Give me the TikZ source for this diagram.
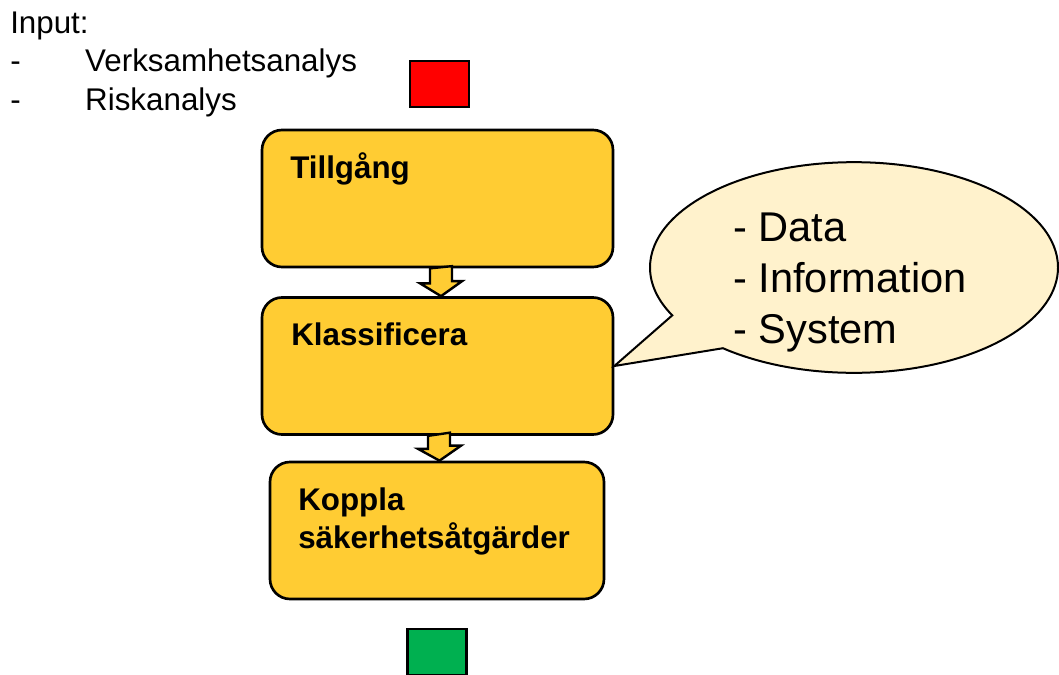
\documentclass[tikz,border=0pt]{standalone}
\usepackage{fontspec}
\setmainfont{Liberation Sans}
\usetikzlibrary{shapes.callouts,calc}
\definecolor{boxfill}{HTML}{FFCC33}
\definecolor{bubblefill}{HTML}{FFF2CC}
\definecolor{stopred}{HTML}{FF0000}
\definecolor{gogreen}{HTML}{00B050}

\begin{document}
\begin{tikzpicture}[x=0.75pt,y=-0.75pt,
	stepbox/.style={draw=black,line width=2pt,fill=boxfill,rounded corners=15pt,minimum height=102.75pt,inner sep=0pt},
	steptext/.style={anchor=base west,inner sep=0pt,align=left,font=\fontsize{23.5}{28.5}\selectfont\bfseries},
	flowarrow/.style={draw=black,line width=1.8pt,fill=boxfill,line join=miter},
	marker/.style={draw=black,line width=2pt,minimum width=44.25pt,minimum height=34.5pt,inner sep=0pt}]
	\useasboundingbox (0,0) rectangle (1059,674);
	% input list (base = last line)
	\node [anchor=base west,inner sep=0pt,align=left,font=\fontsize{23.5}{28.8}\selectfont] (input) at (10,110)
		{Input:\\\makebox[56.25pt][l]{-}Verksamhetsanalys\\\makebox[56.25pt][l]{-}Riskanalys};
	\node [marker,fill=stopred] (start) at (439.5,84) {};
	\node [marker,fill=gogreen] (stop) at (437,652) {};
	% steps
	\node [stepbox,minimum width=263.25pt] (asset) at (437.5,198.5) {};
	\node [stepbox,minimum width=263.25pt] (classify) at (437.5,366) {};
	\node [stepbox,minimum width=250.5pt] (measures) at (437,530.5) {};
	\node [steptext] (assettext) at (290,178) {Tillgång};
	\node [steptext] (classifytext) at (291,345) {Klassificera};
	\node [steptext] (measurestext) at (298,548) {Koppla\\säkerhetsåtgärder};
	\draw [flowarrow] ($(asset.south)+(-7.5,0)$) -- ++(0,15) -- ++(-10,0) -- ($(classify.north)+(3.5,0)$)
		-- ++(21,-15) -- ++(-10,0) -- ++(0,-15) -- cycle;
	\draw [flowarrow] ($(classify.south)+(-9.5,0)$) -- ++(0,13) -- ++(-10,0) -- ($(measures.north)+(2.5,0)$)
		-- ++(21.5,-15) -- ++(-11,0) -- ++(0,-13) -- cycle;
	% callout
	\node [ellipse callout,draw=black,line width=1.5pt,fill=bubblefill,minimum width=306pt,minimum height=158pt,
		inner sep=0pt,callout absolute pointer={(classify.east)},callout pointer arc=23] (bubble) at (854,267.5) {};
	\node [anchor=base west,inner sep=0pt,align=left,font=\fontsize{31.2}{38}\selectfont] (items) at (733,343)
		{- Data\\- Information\\- System};
\end{tikzpicture}
\end{document}
